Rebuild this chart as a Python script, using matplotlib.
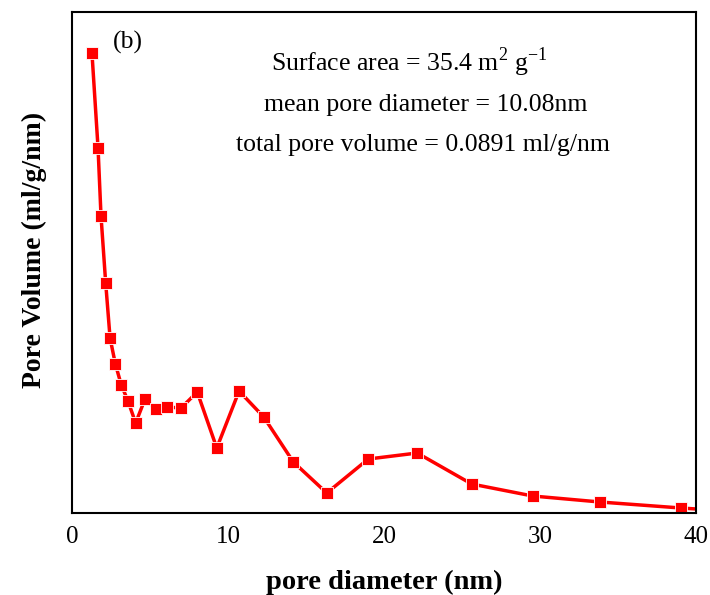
import matplotlib
matplotlib.use("Agg")
import matplotlib.pyplot as plt

# pore size distribution (y in arbitrary units)
pore_diameter = [1.28, 1.67, 1.86, 2.16, 2.44, 2.78, 3.16, 3.59, 4.08, 4.68,
                 5.37, 6.11, 6.99, 8.03, 9.28, 10.71, 12.29, 14.19, 16.33,
                 18.99, 22.13, 25.62, 29.53, 33.85, 39.04, 44.0]
pore_volume = [46.0, 36.5, 29.7, 23.0, 17.5, 14.9, 12.8, 11.2, 9.0, 11.4,
               10.4, 10.6, 10.5, 12.1, 6.5, 12.2, 9.6, 5.1, 2.0,
               5.4, 6.0, 2.9, 1.7, 1.1, 0.5, 0.0]
x_ticks = [0, 10, 20, 30, 40]

plt.rcParams["font.family"] = ["Liberation Serif", "DejaVu Serif"]
plt.rcParams["mathtext.fontset"] = "custom"
plt.rcParams["mathtext.rm"] = "Liberation Serif"

fig = plt.figure(figsize=(7.1, 5.95), dpi=100)
ax = fig.add_axes([0.1014, 0.1378, 0.8789, 0.842])

ax.plot(pore_diameter, pore_volume, color="red", lw=2.5, marker="s",
        markersize=9, markeredgecolor="white", markeredgewidth=0.6,
        clip_on=True)

ax.set_xlim(0, 40)
ax.set_ylim(0, 50.1)
ax.set_xticks(x_ticks)
ax.set_yticks([])
ax.tick_params(axis="x", length=0, labelsize=18, pad=9)
for s in ax.spines.values():
    s.set_linewidth(1.5)

ax.set_xlabel("pore diameter (nm)", fontsize=20.5, fontweight="bold", labelpad=16)
ax.set_ylabel("Pore Volume (ml/g/nm)", fontsize=20, fontweight="bold")
ax.yaxis.set_label_coords(-0.04, 0.525)

ax.text(0.0657, 0.940, "(b)", transform=ax.transAxes, fontsize=18.5, ha="left", va="center")
ax.text(0.54, 0.899, r"Surface area = 35.4 m$^{2}$ g$^{\mathregular{-1}}$",
        transform=ax.transAxes, fontsize=18.5, ha="center", va="center")
ax.text(0.566, 0.815, "mean pore diameter = 10.08nm",
        transform=ax.transAxes, fontsize=18.5, ha="center", va="center")
ax.text(0.563, 0.735, "total pore volume = 0.0891 ml/g/nm",
        transform=ax.transAxes, fontsize=18.5, ha="center", va="center")

plt.savefig("out.png", dpi=100)
